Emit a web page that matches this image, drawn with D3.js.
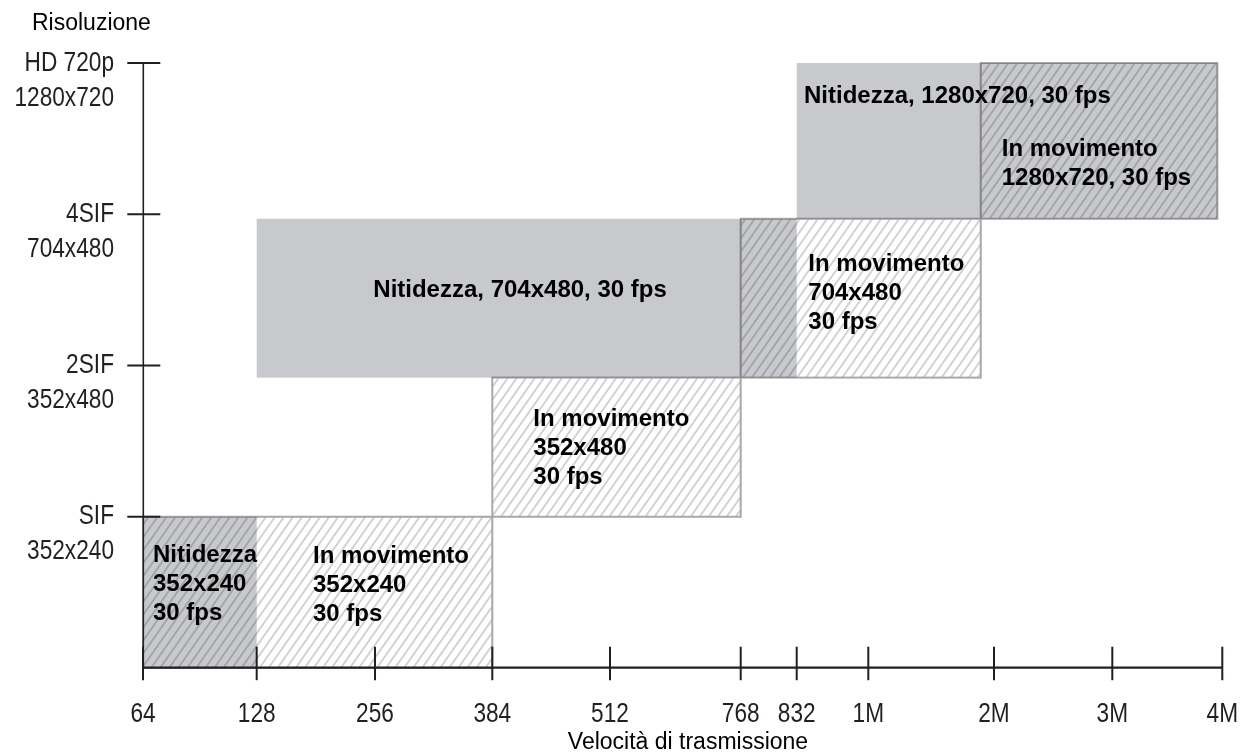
<!DOCTYPE html>
<html><head><meta charset="utf-8">
<script src="https://cdn.jsdelivr.net/npm/d3@7"></script>
<style>html,body{margin:0;padding:0;background:#fff;} svg{display:block}</style>
</head><body><svg id="chart" width="1247" height="753"></svg>
<script>
// ---------------- data ----------------
const bitrateTicks  = [64, 128, 256, 384, 512, 768, 832, 1024, 2048, 3072, 4096];
const bitrateLabels = ["64", "128", "256", "384", "512", "768", "832", "1M", "2M", "3M", "4M"];
const resolutionLevels = [1, 2, 3, 4];
const resolutionNames  = ["SIF", "2SIF", "4SIF", "HD 720p"];
const resolutionSizes  = ["352x240", "352x480", "704x480", "1280x720"];

// "Nitidezza" ranges (grey boxes): bitrate from/to, resolution level low/high
const sharpFrom = [64, 128, 832];
const sharpTo   = [128, 832, 4050];
const sharpLow  = [0, 1.92, 2.97];
const sharpHigh = [1, 2.97, 4];
const sharpText = [["Nitidezza", "352x240", "30 fps"], ["Nitidezza, 704x480, 30 fps"], ["Nitidezza, 1280x720, 30 fps"]];

// "In movimento" ranges (hatched boxes)
const motionFrom = [64, 384, 768, 1940];
const motionTo   = [384, 768, 1940, 4050];
const motionLow  = [0, 1, 1.92, 2.97];
const motionHigh = [1, 1.92, 2.97, 4];
const motionText = [["In movimento", "352x240", "30 fps"], ["In movimento", "352x480", "30 fps"],
                    ["In movimento", "704x480", "30 fps"], ["In movimento", "1280x720, 30 fps"]];

const xTitle = "Velocità di trasmissione";
const yTitle = "Risoluzione";

// ---------------- layout ----------------
const xRangePx = [143, 256.7, 375, 492.3, 610, 740.7, 796.7, 868.3, 994, 1112.3, 1222.3];
const x = d3.scaleLinear().domain(bitrateTicks).range(xRangePx);
const y = d3.scaleLinear().domain([0, 4]).range([668, 63]);
const axisColor = "#231f20";
const tickFont = "'Liberation Sans',Arial,Helvetica,sans-serif";
const tickSize = 27, tickSqueeze = 0.84;
const boldFont = "'Liberation Sans',Arial,Helvetica,sans-serif";
const lineH = 29.3;
const sharpLabelOffset  = [[10, 45], [116.6, 78], [7.3, 40]];
const motionLabelOffset = [[170, 46], [41, 48], [67.6, 52], [21, 93]];

const svg = d3.select("#chart");

// hatch pattern
const defs = svg.append("defs");
const pat = defs.append("pattern")
  .attr("id", "hatch").attr("patternUnits", "userSpaceOnUse")
  .attr("width", 7.4).attr("height", 7.4)
  .attr("patternTransform", "rotate(35)");
pat.append("rect").attr("width", 7.4).attr("height", 7.4).attr("fill", "#fff");
pat.append("line").attr("x1", 3.7).attr("y1", 0).attr("x2", 3.7).attr("y2", 7.4)
  .attr("stroke", "#a9a9a9").attr("stroke-width", 1);

const motion = motionFrom.map((d, i) => ({x0: d, x1: motionTo[i], y0: motionLow[i], y1: motionHigh[i], text: motionText[i], off: motionLabelOffset[i]}));
const sharp = sharpFrom.map((d, i) => ({x0: d, x1: sharpTo[i], y0: sharpLow[i], y1: sharpHigh[i], text: sharpText[i], off: sharpLabelOffset[i]}));

// hatched boxes
svg.append("g").selectAll("rect").data(motion).join("rect")
  .attr("x", d => x(d.x0)).attr("y", d => y(d.y1))
  .attr("width", d => x(d.x1) - x(d.x0)).attr("height", d => y(d.y0) - y(d.y1))
  .attr("fill", "url(#hatch)").attr("stroke", "#a8a8a8").attr("stroke-width", 2);

// grey boxes (multiply over hatch)
svg.append("g").selectAll("rect").data(sharp).join("rect")
  .attr("x", d => x(d.x0)).attr("y", d => y(d.y1))
  .attr("width", d => x(d.x1) - x(d.x0)).attr("height", d => y(d.y0) - y(d.y1))
  .attr("fill", "#c8c9cc").style("mix-blend-mode", "multiply");

// y axis
const yAxisX = 143.3;
svg.append("line").attr("x1", yAxisX).attr("x2", yAxisX).attr("y1", y(4) - 1).attr("y2", y(0))
  .attr("stroke", axisColor).attr("stroke-width", 1.6);
const yt = svg.append("g").selectAll("g").data(resolutionLevels).join("g");
yt.append("line").attr("x1", yAxisX - 16).attr("x2", yAxisX + 17)
  .attr("y1", d => y(d)).attr("y2", d => y(d))
  .attr("stroke", axisColor).attr("stroke-width", 2);
yt.append("text").attr("transform", d => `translate(114,${y(d) + 7.5}) scale(${tickSqueeze},1)`)
  .attr("text-anchor", "end").attr("font-family", tickFont).attr("font-size", tickSize).attr("fill", axisColor)
  .text((d, i) => resolutionNames[i]);
yt.append("text").attr("transform", d => `translate(114,${y(d) + 42.5}) scale(${tickSqueeze},1)`)
  .attr("text-anchor", "end").attr("font-family", tickFont).attr("font-size", tickSize).attr("fill", axisColor)
  .text((d, i) => resolutionSizes[i]);

// x axis
const xAxisY = 667.7;
svg.append("line").attr("x1", x(64)).attr("x2", x(4096)).attr("y1", xAxisY).attr("y2", xAxisY)
  .attr("stroke", axisColor).attr("stroke-width", 2.2);
const xt = svg.append("g").selectAll("g").data(bitrateTicks).join("g");
xt.append("line").attr("x1", d => x(d)).attr("x2", d => x(d))
  .attr("y1", xAxisY - 21).attr("y2", xAxisY + 12.5)
  .attr("stroke", axisColor).attr("stroke-width", 2);
xt.append("text").attr("transform", d => `translate(${x(d)},722) scale(${tickSqueeze},1)`)
  .attr("text-anchor", "middle").attr("font-family", tickFont).attr("font-size", tickSize).attr("fill", axisColor)
  .text((d, i) => bitrateLabels[i]);

// axis titles
svg.append("text").attr("x", 32).attr("y", 29.5).attr("font-family", boldFont)
  .attr("font-size", 23).attr("fill", "#000").text(yTitle);
svg.append("text").attr("x", 688).attr("y", 749).attr("text-anchor", "middle").attr("font-family", boldFont)
  .attr("font-size", 23).attr("fill", "#000").text(xTitle);

// box labels
function labels(data) {
  const g = svg.append("g").selectAll("text").data(data).join("text")
    .attr("x", d => x(d.x0) + d.off[0]).attr("y", d => y(d.y1) + d.off[1])
    .attr("font-family", boldFont).attr("font-weight", "bold").attr("font-size", 24).attr("fill", "#000");
  g.selectAll("tspan").data(d => d.text.map(t => ({t, x: x(d.x0) + d.off[0]}))).join("tspan")
    .attr("x", t => t.x).attr("dy", (t, i) => i === 0 ? 0 : lineH).text(t => t.t);
}
labels(sharp);
labels(motion);
</script>
</body></html>
